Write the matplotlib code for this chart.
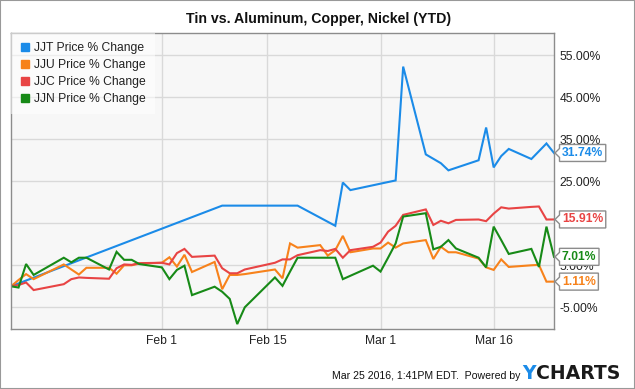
import numpy as np
import pandas as pd
import matplotlib
matplotlib.use('Agg')
import matplotlib.pyplot as plt
import matplotlib.dates as mdates
from matplotlib.lines import Line2D
from matplotlib.patches import Polygon, Rectangle

plt.rcParams['font.family'] = ['Liberation Sans', 'DejaVu Sans']

# trading days shown for JJU / JJC / JJN
days = ['2016-01-12', '2016-01-13', '2016-01-14', '2016-01-15', '2016-01-19', '2016-01-20',
        '2016-01-21', '2016-01-22', '2016-01-25', '2016-01-26', '2016-01-27', '2016-01-28',
        '2016-01-29', '2016-02-01', '2016-02-02', '2016-02-03', '2016-02-04', '2016-02-05',
        '2016-02-08', '2016-02-09', '2016-02-10', '2016-02-11', '2016-02-12', '2016-02-16',
        '2016-02-17', '2016-02-18', '2016-02-19', '2016-02-22', '2016-02-23', '2016-02-24',
        '2016-02-25', '2016-02-26', '2016-02-29', '2016-03-01', '2016-03-02', '2016-03-03',
        '2016-03-04', '2016-03-07', '2016-03-08', '2016-03-09', '2016-03-10', '2016-03-11',
        '2016-03-14', '2016-03-15', '2016-03-16', '2016-03-17', '2016-03-18', '2016-03-21',
        '2016-03-22', '2016-03-23', '2016-03-24']

jju = [0, 1.5, 2.9, 1.7, 5.2, 4.0, 2.8, 4.4, 4.4, 3.0, 5.0, 5.0, 5.4,
       5.6, 6.9, 4.7, 7.5, 3.4, 5.8, -0.7, 2.7, 2.7, 2.9, 4.0, 1.9, 10.2, 9.2, 9.8, 7.3, 8.6,
       12.0, 8.1, 9.0,
       9.0, 10.4, 9.2, 10.2, 11.0, 6.5, 9.4, 8.1, 8.1, 6.6, 4.5, 3.9, 6.4, 4.6, 5.0, 5.1, 1.1, 1.11]

jjc = [0, 0.3, 0.9, -0.9, 0.5, 1.7, 2.1, 2.0, 1.8, 4.3, 5.2, 5.1, 5.5,
       5.6, 5.2, 7.9, 8.9, 7.0, 7.3, 4.3, 3.1, 3.1, 4.0, 5.6, 6.4, 6.4, 7.4, 8.6, 8.4, 8.9,
       6.8, 8.6, 9.4,
       10.4, 13.0, 14.4, 17.0, 18.3, 14.6, 15.6, 15.0, 15.8, 15.9, 15.5, 17.3, 18.8, 18.5, 18.9,
       19.0, 15.9, 15.91]

jjn = [0, -0.3, 5.3, 2.7, 6.8, 5.7, 6.8, 6.8, 4.0, 8.2, 6.3, 6.3, 5.3,
       4.5, 1.7, 3.9, 4.9, -2.1, -0.1, -1.3, -3.0, -9.0, -5.0, 2.1, 0.1, 3.5, 6.8, 6.8, 6.8, 6.8,
       1.7, 2.5, 4.9,
       3.5, 6.8, 10.2, 16.6, 17.4, 8.8, 9.4, 11.0, 9.0, 6.8, 4.5, 14.2, 11.0, 7.7, 8.9, 4.6,
       14.2, 7.01]

# JJT trades thinly, only these days are plotted
jjt_days = ['2016-01-12', '2016-02-09', '2016-02-19', '2016-02-24', '2016-02-25', '2016-02-26',
            '2016-03-03', '2016-03-04', '2016-03-07', '2016-03-09', '2016-03-10', '2016-03-14',
            '2016-03-15', '2016-03-16', '2016-03-17', '2016-03-18', '2016-03-21', '2016-03-23',
            '2016-03-24']
jjt = [0, 19.2, 19.2, 14.4, 24.7, 22.9, 25.2, 52.3, 31.4, 29.3, 27.6, 30.0, 37.8, 28.3, 31.0,
       32.7, 30.3, 34.0, 31.74]

yticks = [-5, 5, 15, 25, 35, 45, 55]
xtick_dates = ['2016-02-01', '2016-02-15', '2016-03-01', '2016-03-16']
xtick_labels = ['Feb 1', 'Feb 15', 'Mar 1', 'Mar 16']

colors = {'JJT': '#1b8be8', 'JJU': '#f7821b', 'JJC': '#e84444', 'JJN': '#178a17'}

d = pd.to_datetime(days)
series = [('JJT', pd.to_datetime(jjt_days), jjt),
          ('JJU', d, jju),
          ('JJC', d, jjc),
          ('JJN', d, jjn)]

W, H = 635, 389
fig = plt.figure(figsize=(W / 100, H / 100), dpi=100)
ax = fig.add_axes([11 / W, 1 - 329 / H, (554 - 11) / W, (329 - 33) / H])
ax.set_facecolor('#f7f7f7')

for name, x, y in series:
    ax.plot(x, y, color=colors[name], lw=1.5, solid_joinstyle='miter')

ax.set_xlim(pd.Timestamp('2016-01-12'), pd.Timestamp('2016-03-24'))
ax.set_ylim(-10.17, 60.3)
ax.set_xticks(pd.to_datetime(xtick_dates))
ax.set_xticklabels(xtick_labels)
ax.set_yticks(yticks)
# the 15% label sits fully under the JJC flag in the original
ax.set_yticklabels(['' if v == 15 else '%.2f%%' % v for v in yticks])
ax.yaxis.tick_right()
ax.tick_params(axis='both', length=0, labelsize=8.7, colors='#222222')
ax.tick_params(axis='y', pad=4)
ax.tick_params(axis='x', pad=4)
ax.grid(True, color='#d9d9d9', lw=1)
ax.set_axisbelow(True)
for s in ax.spines.values():
    s.set_color('#8c8c8c')
    s.set_linewidth(1)

handles = [Line2D([], [], marker='s', ls='none', markersize=6.3, color=colors[n]) for n, _, _ in series]
labels = ['%s Price %% Change' % n for n, _, _ in series]
leg = ax.legend(handles, labels, loc='upper left', bbox_to_anchor=(0, 1), borderaxespad=0,
                fancybox=False, facecolor='white', framealpha=0.55, edgecolor='none',
                handlelength=0.7, handletextpad=0.45, borderpad=0.78, labelspacing=0.4,
                prop={'size': 8.7})
for t in leg.get_texts():
    t.set_color('#222222')

fig.text(318.3 / W, 1 - 22.7 / H, 'Tin vs. Aluminum, Copper, Nickel (YTD)', ha='center',
         va='baseline', fontsize=10.2, fontweight='bold', color='#111111')

# last-value flags on the right
fig.canvas.draw()
r = fig.canvas.get_renderer()
for name, x, y in series:
    px, py = ax.transData.transform((mdates.date2num(x[-1]), y[-1]))
    bl = px + 5.5
    t = fig.text((bl + 2.5) / W, py / H, '%.2f%%' % y[-1], ha='left', va='center',
                 fontsize=8.7, fontweight='bold', color=colors[name], zorder=7)
    bb = t.get_window_extent(r)
    br = bb.x1 + 2.5
    top, bot = py + 8.5, py - 8.5
    pts = [(px + 1, py), (bl, py + 4.5), (bl, top), (br, top), (br, bot), (bl, bot), (bl, py - 4.5)]
    fig.add_artist(Polygon([(a / W, b / H) for a, b in pts], closed=True, transform=fig.transFigure,
                           facecolor='white', edgecolor='#8c8c8c', lw=1, zorder=6))

# footer
fig.text(520 / W, 1 - 379.3 / H, 'Mar 25 2016, 1:41PM EDT.  Powered by', ha='right',
         va='baseline', fontsize=7.6, color='#111111')
yt = fig.text(522.7 / W, 1 - 379.3 / H, 'Y', ha='left', va='baseline', fontsize=13.6,
              fontweight='bold', color='#1b8be8', family='DejaVu Sans')
ax.annotate('CHARTS', xy=(1, 0), xycoords=yt, ha='left', va='bottom', fontsize=13.6,
            fontweight='bold', color='#1a1a1a', family='DejaVu Sans', annotation_clip=False)

fig.add_artist(Rectangle((0, 0), 1, 1, transform=fig.transFigure, fill=False,
                         edgecolor='#999999', lw=1.5, zorder=10))

fig.savefig('out.png', dpi=100)
